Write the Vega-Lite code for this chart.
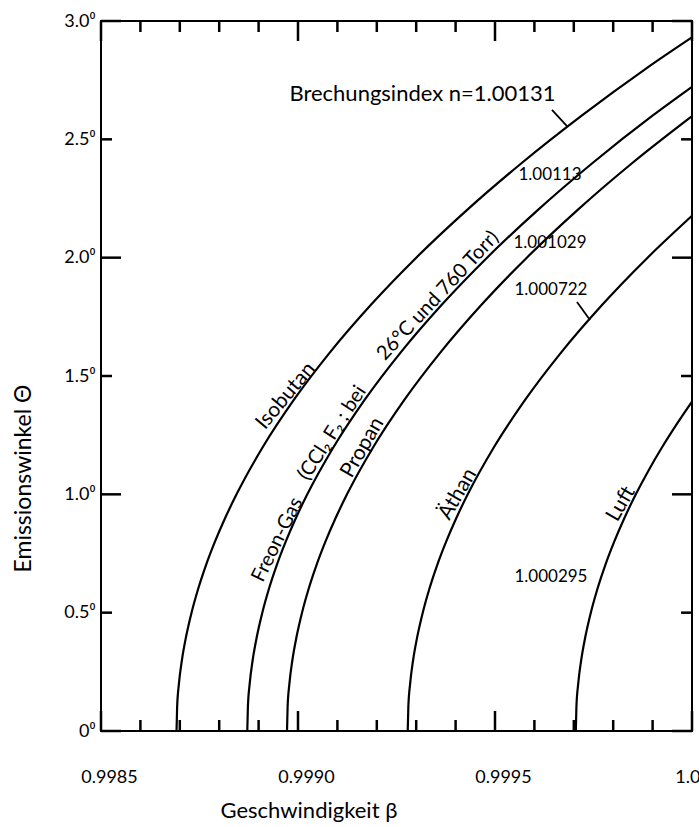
{
  "$schema": "https://vega.github.io/schema/vega-lite/v6.json",
  "width": 591,
  "height": 710,
  "autosize": {"type": "none"},
  "padding": {"left": 101, "top": 21, "right": 7, "bottom": 96},
  "background": "white",
  "config": {
    "view": {"stroke": "black", "strokeWidth": 2},
    "font": "Lato",
    "text": {"font": "Lato", "color": "black"},
    "axis": {"grid": false, "domain": false, "ticks": false, "labelColor": "black", "titleColor": "black"}
  },
  "layer": [
    {
      "data": {"values": [
        {"gas": "Isobutan", "beta": 0.9986917, "theta": 0},
        {"gas": "Isobutan", "beta": 0.9986932, "theta": 0.1},
        {"gas": "Isobutan", "beta": 0.9986978, "theta": 0.2},
        {"gas": "Isobutan", "beta": 0.9987054, "theta": 0.3},
        {"gas": "Isobutan", "beta": 0.9987161, "theta": 0.4},
        {"gas": "Isobutan", "beta": 0.9987298, "theta": 0.5},
        {"gas": "Isobutan", "beta": 0.9987465, "theta": 0.6},
        {"gas": "Isobutan", "beta": 0.9987663, "theta": 0.7},
        {"gas": "Isobutan", "beta": 0.9987892, "theta": 0.8},
        {"gas": "Isobutan", "beta": 0.9988151, "theta": 0.9},
        {"gas": "Isobutan", "beta": 0.998844, "theta": 1.0},
        {"gas": "Isobutan", "beta": 0.9989107, "theta": 1.2},
        {"gas": "Isobutan", "beta": 0.9989898, "theta": 1.4},
        {"gas": "Isobutan", "beta": 0.9990811, "theta": 1.6},
        {"gas": "Isobutan", "beta": 0.9991846, "theta": 1.8},
        {"gas": "Isobutan", "beta": 0.9993001, "theta": 2.0},
        {"gas": "Isobutan", "beta": 0.9994279, "theta": 2.2},
        {"gas": "Isobutan", "beta": 0.9995679, "theta": 2.4},
        {"gas": "Isobutan", "beta": 0.99972, "theta": 2.6},
        {"gas": "Isobutan", "beta": 0.9998842, "theta": 2.8},
        {"gas": "Isobutan", "beta": 1.0, "theta": 2.931},
        {"gas": "Freon", "beta": 0.9988713, "theta": 0},
        {"gas": "Freon", "beta": 0.9988728, "theta": 0.1},
        {"gas": "Freon", "beta": 0.9988774, "theta": 0.2},
        {"gas": "Freon", "beta": 0.998885, "theta": 0.3},
        {"gas": "Freon", "beta": 0.9988957, "theta": 0.4},
        {"gas": "Freon", "beta": 0.9989094, "theta": 0.5},
        {"gas": "Freon", "beta": 0.9989261, "theta": 0.6},
        {"gas": "Freon", "beta": 0.9989459, "theta": 0.7},
        {"gas": "Freon", "beta": 0.9989688, "theta": 0.8},
        {"gas": "Freon", "beta": 0.9989947, "theta": 0.9},
        {"gas": "Freon", "beta": 0.9990236, "theta": 1.0},
        {"gas": "Freon", "beta": 0.9990904, "theta": 1.2},
        {"gas": "Freon", "beta": 0.9991695, "theta": 1.4},
        {"gas": "Freon", "beta": 0.9992608, "theta": 1.6},
        {"gas": "Freon", "beta": 0.9993642, "theta": 1.8},
        {"gas": "Freon", "beta": 0.9994798, "theta": 2.0},
        {"gas": "Freon", "beta": 0.9996077, "theta": 2.2},
        {"gas": "Freon", "beta": 0.9997476, "theta": 2.4},
        {"gas": "Freon", "beta": 0.9998997, "theta": 2.6},
        {"gas": "Freon", "beta": 1.0, "theta": 2.722},
        {"gas": "Propan", "beta": 0.9989721, "theta": 0},
        {"gas": "Propan", "beta": 0.9989736, "theta": 0.1},
        {"gas": "Propan", "beta": 0.9989782, "theta": 0.2},
        {"gas": "Propan", "beta": 0.9989858, "theta": 0.3},
        {"gas": "Propan", "beta": 0.9989965, "theta": 0.4},
        {"gas": "Propan", "beta": 0.9990102, "theta": 0.5},
        {"gas": "Propan", "beta": 0.9990269, "theta": 0.6},
        {"gas": "Propan", "beta": 0.9990467, "theta": 0.7},
        {"gas": "Propan", "beta": 0.9990696, "theta": 0.8},
        {"gas": "Propan", "beta": 0.9990955, "theta": 0.9},
        {"gas": "Propan", "beta": 0.9991244, "theta": 1.0},
        {"gas": "Propan", "beta": 0.9991912, "theta": 1.2},
        {"gas": "Propan", "beta": 0.9992703, "theta": 1.4},
        {"gas": "Propan", "beta": 0.9993616, "theta": 1.6},
        {"gas": "Propan", "beta": 0.9994651, "theta": 1.8},
        {"gas": "Propan", "beta": 0.9995807, "theta": 2.0},
        {"gas": "Propan", "beta": 0.9997085, "theta": 2.2},
        {"gas": "Propan", "beta": 0.9998485, "theta": 2.4},
        {"gas": "Propan", "beta": 1.0, "theta": 2.598},
        {"gas": "Äthan", "beta": 0.9992785, "theta": 0},
        {"gas": "Äthan", "beta": 0.99928, "theta": 0.1},
        {"gas": "Äthan", "beta": 0.9992846, "theta": 0.2},
        {"gas": "Äthan", "beta": 0.9992922, "theta": 0.3},
        {"gas": "Äthan", "beta": 0.9993029, "theta": 0.4},
        {"gas": "Äthan", "beta": 0.9993166, "theta": 0.5},
        {"gas": "Äthan", "beta": 0.9993333, "theta": 0.6},
        {"gas": "Äthan", "beta": 0.9993531, "theta": 0.7},
        {"gas": "Äthan", "beta": 0.999376, "theta": 0.8},
        {"gas": "Äthan", "beta": 0.9994019, "theta": 0.9},
        {"gas": "Äthan", "beta": 0.9994308, "theta": 1.0},
        {"gas": "Äthan", "beta": 0.9994976, "theta": 1.2},
        {"gas": "Äthan", "beta": 0.9995768, "theta": 1.4},
        {"gas": "Äthan", "beta": 0.9996681, "theta": 1.6},
        {"gas": "Äthan", "beta": 0.9997716, "theta": 1.8},
        {"gas": "Äthan", "beta": 0.9998873, "theta": 2.0},
        {"gas": "Äthan", "beta": 1.0, "theta": 2.177},
        {"gas": "Luft", "beta": 0.9997051, "theta": 0},
        {"gas": "Luft", "beta": 0.9997066, "theta": 0.1},
        {"gas": "Luft", "beta": 0.9997112, "theta": 0.2},
        {"gas": "Luft", "beta": 0.9997188, "theta": 0.3},
        {"gas": "Luft", "beta": 0.9997295, "theta": 0.4},
        {"gas": "Luft", "beta": 0.9997432, "theta": 0.5},
        {"gas": "Luft", "beta": 0.9997599, "theta": 0.6},
        {"gas": "Luft", "beta": 0.9997797, "theta": 0.7},
        {"gas": "Luft", "beta": 0.9998026, "theta": 0.8},
        {"gas": "Luft", "beta": 0.9998285, "theta": 0.9},
        {"gas": "Luft", "beta": 0.9998574, "theta": 1.0},
        {"gas": "Luft", "beta": 0.9998894, "theta": 1.1},
        {"gas": "Luft", "beta": 0.9999244, "theta": 1.2},
        {"gas": "Luft", "beta": 0.9999625, "theta": 1.3},
        {"gas": "Luft", "beta": 1.0, "theta": 1.392}
      ]},
      "mark": {"type": "line", "color": "black", "strokeWidth": 2.2, "interpolate": "monotone"},
      "encoding": {
        "x": {
          "field": "beta", "type": "quantitative",
          "scale": {"domain": [0.9985, 1.0], "nice": false, "zero": false},
          "axis": {
            "orient": "bottom",
            "values": [0.9985, 0.999, 0.9995, 1.0],
            "labelExpr": "datum.value >= 0.99999 ? '1.0' : format(datum.value, '.4f')",
            "labelFont": "Lato",
            "labelFontSize": 18,
            "labelPadding": 37,
            "labelBaseline": "top",
            "labelAlign": {"condition": {"test": "datum.value >= 0.99999", "value": "right"}, "value": "center"},
            "labelOffset": 8,
            "labelFlush": false,
            "labelOverlap": false,
            "labelBound": false,
            "title": "Geschwindigkeit  β",
            "titleFont": "Lato",
            "titleFontSize": 22,
            "titleFontWeight": "normal",
            "titleX": 119,
            "titleY": 86,
            "titleAlign": "left",
            "titleBaseline": "alphabetic"
          }
        },
        "y": {
          "field": "theta", "type": "quantitative",
          "scale": {"domain": [0, 3], "nice": false},
          "axis": {
            "orient": "left",
            "values": [0, 0.5, 1, 1.5, 2, 2.5, 3],
            "labelExpr": "datum.value == 0 ? '0⁰' : format(datum.value, '.1f') + '⁰'",
            "labelFont": "Lato",
            "labelFontSize": 18,
            "labelPadding": 6,
            "labelFlush": false,
            "labelOverlap": false,
            "labelBound": false,
            "title": "Emissionswinkel  Θ",
            "titleFont": "Lato",
            "titleFontSize": 23,
            "titleFontWeight": "normal",
            "titleAngle": -90,
            "titleX": -71,
            "titleY": 457,
            "titleAlign": "center",
            "titleBaseline": "alphabetic"
          }
        },
        "detail": {"field": "gas", "type": "nominal"}
      }
    },
    {
      "data": {"values": [{"tb": 0.9985}, {"tb": 0.999}, {"tb": 0.9995}, {"tb": 1.0}]},
      "mark": {"type": "rule", "color": "black", "strokeWidth": 2.5},
      "encoding": {
        "x": {"field": "tb", "type": "quantitative"},
        "y": {"datum": 0, "type": "quantitative"},
        "y2": {"datum": 0.0845}
      }
    },
    {
      "data": {"values": [{"tb": 0.9985}, {"tb": 0.999}, {"tb": 0.9995}, {"tb": 1.0}]},
      "mark": {"type": "rule", "color": "black", "strokeWidth": 2.5},
      "encoding": {
        "x": {"field": "tb", "type": "quantitative"},
        "y": {"datum": 3, "type": "quantitative"},
        "y2": {"datum": 2.9155}
      }
    },
    {
      "data": {"values": [{"tm": 0.9986}, {"tm": 0.9987}, {"tm": 0.9988}, {"tm": 0.9989}, {"tm": 0.9991}, {"tm": 0.9992}, {"tm": 0.9993}, {"tm": 0.9994}, {"tm": 0.9996}, {"tm": 0.9997}, {"tm": 0.9998}, {"tm": 0.9999}]},
      "mark": {"type": "rule", "color": "black", "strokeWidth": 2.5},
      "encoding": {
        "x": {"field": "tm", "type": "quantitative"},
        "y": {"datum": 0, "type": "quantitative"},
        "y2": {"datum": 0.0465}
      }
    },
    {
      "data": {"values": [{"tm": 0.9986}, {"tm": 0.9987}, {"tm": 0.9988}, {"tm": 0.9989}, {"tm": 0.9991}, {"tm": 0.9992}, {"tm": 0.9993}, {"tm": 0.9994}, {"tm": 0.9996}, {"tm": 0.9997}, {"tm": 0.9998}, {"tm": 0.9999}]},
      "mark": {"type": "rule", "color": "black", "strokeWidth": 2.5},
      "encoding": {
        "x": {"field": "tm", "type": "quantitative"},
        "y": {"datum": 3, "type": "quantitative"},
        "y2": {"datum": 2.9535}
      }
    },
    {
      "data": {"values": [{"ty": 0}, {"ty": 1}, {"ty": 2}, {"ty": 3}]},
      "mark": {"type": "rule", "color": "black", "strokeWidth": 2.5},
      "encoding": {
        "y": {"field": "ty", "type": "quantitative"},
        "x": {"datum": 0.9985, "type": "quantitative"},
        "x2": {"datum": 0.9985508}
      }
    },
    {
      "data": {"values": [{"ty": 0}, {"ty": 1}, {"ty": 2}, {"ty": 3}]},
      "mark": {"type": "rule", "color": "black", "strokeWidth": 2.5},
      "encoding": {
        "y": {"field": "ty", "type": "quantitative"},
        "x": {"datum": 1.0, "type": "quantitative"},
        "x2": {"datum": 0.9999492}
      }
    },
    {
      "data": {"values": [{"tn": 0.5}, {"tn": 1.5}, {"tn": 2.5}]},
      "mark": {"type": "rule", "color": "black", "strokeWidth": 2.5},
      "encoding": {
        "y": {"field": "tn", "type": "quantitative"},
        "x": {"datum": 0.9985, "type": "quantitative"},
        "x2": {"datum": 0.9985279}
      }
    },
    {
      "data": {"values": [{"tn": 0.5}, {"tn": 1.5}, {"tn": 2.5}]},
      "mark": {"type": "rule", "color": "black", "strokeWidth": 2.5},
      "encoding": {
        "y": {"field": "tn", "type": "quantitative"},
        "x": {"datum": 1.0, "type": "quantitative"},
        "x2": {"datum": 0.9999721}
      }
    },
    {
      "data": {"values": [
        {"label": "Brechungsindex  n=1.00131", "beta": 0.999316, "theta": 2.6915}
      ]},
      "mark": {"type": "text", "fontSize": 22, "align": "center", "baseline": "middle"},
      "encoding": {
        "x": {"field": "beta", "type": "quantitative"},
        "y": {"field": "theta", "type": "quantitative"},
        "text": {"field": "label"}
      }
    },
    {
      "data": {"values": [
        {"label": "1.00113", "beta": 0.9996396, "theta": 2.349},
        {"label": "1.001029", "beta": 0.9996396, "theta": 2.062},
        {"label": "1.000722", "beta": 0.999642, "theta": 1.863},
        {"label": "1.000295", "beta": 0.999642, "theta": 0.651}
      ]},
      "mark": {"type": "text", "fontSize": 17, "align": "center", "baseline": "middle"},
      "encoding": {
        "x": {"field": "beta", "type": "quantitative"},
        "y": {"field": "theta", "type": "quantitative"},
        "text": {"field": "label"}
      }
    },
    {
      "data": {"values": [
        {"label": "Isobutan", "beta": 0.9989695, "theta": 1.4155}
      ]},
      "mark": {"type": "text", "fontSize": 21, "align": "center", "baseline": "middle", "angle": -50},
      "encoding": {
        "x": {"field": "beta", "type": "quantitative"},
        "y": {"field": "theta", "type": "quantitative"},
        "text": {"field": "label"}
      }
    },
    {
      "data": {"values": [
        {"label": "26°C und 760 Torr)", "beta": 0.999355, "theta": 1.8389}
      ]},
      "mark": {"type": "text", "fontSize": 20, "align": "center", "baseline": "middle", "angle": -47},
      "encoding": {
        "x": {"field": "beta", "type": "quantitative"},
        "y": {"field": "theta", "type": "quantitative"},
        "text": {"field": "label"}
      }
    },
    {
      "data": {"values": [
        {"label": "(CCl₂ F₂ ; bei", "beta": 0.9990868, "theta": 1.2591}
      ]},
      "mark": {"type": "text", "fontSize": 20, "align": "center", "baseline": "middle", "angle": -57},
      "encoding": {
        "x": {"field": "beta", "type": "quantitative"},
        "y": {"field": "theta", "type": "quantitative"},
        "text": {"field": "label"}
      }
    },
    {
      "data": {"values": [
        {"label": "Freon-Gas", "beta": 0.9989477, "theta": 0.8083}
      ]},
      "mark": {"type": "text", "fontSize": 20, "align": "center", "baseline": "middle", "angle": -64},
      "encoding": {
        "x": {"field": "beta", "type": "quantitative"},
        "y": {"field": "theta", "type": "quantitative"},
        "text": {"field": "label"}
      }
    },
    {
      "data": {"values": [
        {"label": "Propan", "beta": 0.999164, "theta": 1.1975},
        {"label": "Äthan", "beta": 0.9994056, "theta": 1.001},
        {"label": "Luft", "beta": 0.99982, "theta": 0.9587}
      ]},
      "mark": {"type": "text", "fontSize": 21, "align": "center", "baseline": "middle", "angle": -60},
      "encoding": {
        "x": {"field": "beta", "type": "quantitative"},
        "y": {"field": "theta", "type": "quantitative"},
        "text": {"field": "label"}
      }
    },
    {
      "data": {"values": [
        {"b1": 0.9996446, "t1": 2.624, "b2": 0.9996827, "t2": 2.556},
        {"b1": 0.9997081, "t1": 1.8127, "b2": 0.9997411, "t2": 1.7366}
      ]},
      "mark": {"type": "rule", "color": "black", "strokeWidth": 1.8},
      "encoding": {
        "x": {"field": "b1", "type": "quantitative"},
        "y": {"field": "t1", "type": "quantitative"},
        "x2": {"field": "b2"},
        "y2": {"field": "t2"}
      }
    }
  ]
}
